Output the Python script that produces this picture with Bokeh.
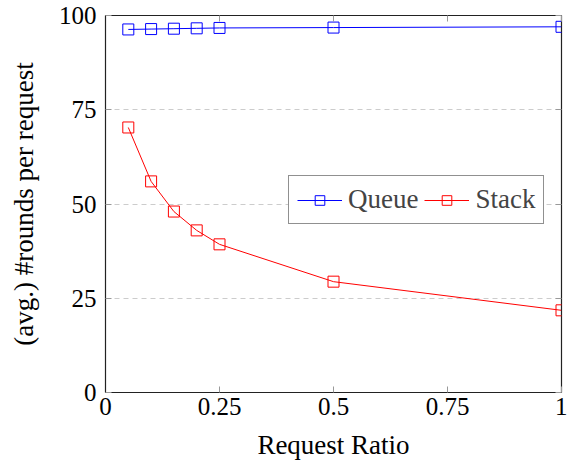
from bokeh.plotting import figure
from bokeh.models import LinearAxis, FixedTicker, Range1d, Legend, LegendItem, CustomJSTickFormatter
from bokeh.embed import file_html
from bokeh.resources import INLINE

ratios = [0.05, 0.1, 0.15, 0.2, 0.25, 0.5, 1.0]
queue = [96.3, 96.4, 96.5, 96.6, 96.7, 96.8, 97.0]
stack = [70.3, 56.0, 48.0, 43.0, 39.3, 29.4, 21.8]
xticks = [0, 0.25, 0.5, 0.75, 1]
xtick_labels = {0: "0", 0.25: "0.25", 0.5: "0.5", 0.75: "0.75", 1: "1"}
yticks = [0, 25, 50, 75, 100]

FONT = "Liberation Serif"

p = figure(frame_width=456, frame_height=377, output_backend="svg", toolbar_location=None,
           x_range=Range1d(0, 1), y_range=Range1d(0, 100),
           min_border_left=105, min_border_right=6, min_border_top=15, min_border_bottom=64,
           background_fill_color="white", border_fill_color="white")
p.outline_line_color = "#222222"
p.outline_line_width = 1.2

p.xaxis.ticker = FixedTicker(ticks=xticks)
p.xaxis.major_label_overrides = xtick_labels
p.yaxis.ticker = FixedTicker(ticks=yticks)
for ax in (p.xaxis[0], p.yaxis[0]):
    ax.major_tick_in = 6
    ax.major_tick_out = 0
    ax.minor_tick_in = 0
    ax.minor_tick_out = 0
    ax.major_tick_line_color = "#999999"
    ax.axis_line_color = "#222222"
    ax.major_label_text_font = FONT
    ax.major_label_text_font_size = "25px"
    ax.major_label_text_color = "black"
    ax.axis_label_text_font = FONT
    ax.axis_label_text_font_size = "27px"
    ax.axis_label_text_font_style = "normal"
    ax.axis_label_text_color = "black"
p.xaxis.axis_label = "Request Ratio"
p.yaxis.axis_label = "(avg.) #rounds per request"
p.xaxis.major_label_standoff = 5
p.xaxis.axis_label_standoff = 12
p.yaxis.major_label_standoff = 9
p.yaxis.axis_label_standoff = 17

# top and right tick-only axes
blank = CustomJSTickFormatter(code="return ''")
top = LinearAxis(ticker=FixedTicker(ticks=xticks), formatter=blank, major_tick_in=6, major_tick_out=0,
                 minor_tick_in=0, minor_tick_out=0,
                 major_label_standoff=0, axis_line_color=None, major_tick_line_color="#999999")
right = LinearAxis(ticker=FixedTicker(ticks=yticks), formatter=blank, major_tick_in=6, major_tick_out=0,
                   minor_tick_in=0, minor_tick_out=0,
                   major_label_standoff=0, axis_line_color=None, major_tick_line_color="#999999")
p.add_layout(top, "above")
p.add_layout(right, "right")

p.xgrid.grid_line_color = None
p.ygrid.ticker = FixedTicker(ticks=[25, 50, 75])
p.ygrid.grid_line_color = "#cccccc"
p.ygrid.grid_line_dash = "5 4"
p.ygrid.grid_line_width = 1.2

ql = p.line(ratios, queue, line_color="#0000ff", line_width=1)
qm = p.scatter(ratios, queue, marker="square", size=11, fill_color=None, line_color="#0000ff", line_width=1)
sl = p.line(ratios, stack, line_color="#ff0000", line_width=1)
sm = p.scatter(ratios, stack, marker="square", size=11, fill_color=None, line_color="#ff0000", line_width=1)

legend = Legend(items=[LegendItem(label="Queue", renderers=[ql, qm]),
                       LegendItem(label="Stack", renderers=[sl, sm])],
                orientation="horizontal", location=(183, 168),
                label_text_font=FONT, label_text_font_size="27px",
                glyph_width=45, glyph_height=24, label_height=24, label_standoff=6, spacing=6,
                padding=8, margin=0,
                border_line_color="#222222", border_line_width=1.2,
                background_fill_color="white", background_fill_alpha=1)
p.add_layout(legend, "center")

open("out.html", "w").write(file_html(p, INLINE))
